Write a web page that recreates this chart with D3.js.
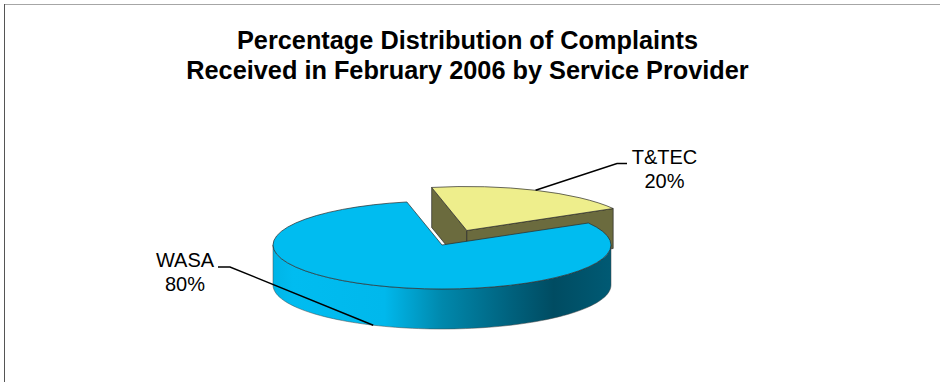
<!DOCTYPE html>
<html>
<head>
<meta charset="utf-8">
<script src="https://cdn.jsdelivr.net/npm/d3@7"></script>
<style>
html, body { margin: 0; padding: 0; background: #fff; }
svg { display: block; font-family: "Liberation Sans", Arial, sans-serif; }
</style>
</head>
<body>
<svg id="chart" width="940" height="382"></svg>
<script>
// Complaints by service provider
const titleLines = ["Percentage Distribution of Complaints", "Received in February 2006 by Service Provider"];
const providers = ["T&TEC", "WASA"];
const shares = [20, 80];
const topColors = ["#eeee8c", "#00bcf0"];
const exploded = [61, 0];

const svg = d3.select("#chart");

// Frame along the top and left of the chart area
svg.append("line").attr("x1", 4).attr("y1", 4.5).attr("x2", 940).attr("y2", 4.5).attr("stroke", "#a6a6a6");
svg.append("line").attr("x1", 4.5).attr("y1", 4).attr("x2", 4.5).attr("y2", 382).attr("stroke", "#555");

// Title
svg.append("g").selectAll("text").data(titleLines).join("text")
  .attr("x", 467.5).attr("y", (d, i) => 49 + i * 29.5)
  .attr("text-anchor", "middle")
  .attr("font-size", 25.3).attr("font-weight", "bold").attr("fill", "#000")
  .text(d => d);

// Tilted pie geometry
const cx = 442, cy = 245, rx = 169, ry = 44, depth = 40;
const turn = 60 * Math.PI / 180;
const pie = d3.pie().sort(null).startAngle(turn - 2 * Math.PI * shares[0] / 100).endAngle(turn + 2 * Math.PI * (1 - shares[0] / 100));
const slices = pie(shares).map((s, i) => {
  const mid = (s.startAngle + s.endAngle) / 2;
  return {
    ...s, i, mid,
    ox: cx + exploded[i] * Math.sin(mid),
    oy: cy - exploded[i] * (ry / rx) * Math.cos(mid)
  };
});
const px = (s, a) => s.ox + rx * Math.sin(a);
const py = (s, a) => s.oy - ry * Math.cos(a);
const arcTop = d3.arc().innerRadius(0).outerRadius(rx);

// Gradient across the front wall of the large slice
const defs = svg.append("defs");
const grad = defs.append("linearGradient").attr("id", "wall")
  .attr("gradientUnits", "userSpaceOnUse")
  .attr("x1", cx - rx).attr("x2", cx + rx).attr("y1", 0).attr("y2", 0);
[[0, "#00b4e6"], [0.06, "#00bcf0"], [0.33, "#00b8ec"], [0.5, "#0088ac"], [0.7, "#00627e"], [0.83, "#004c62"], [1, "#005a74"]]
  .forEach(([o, c]) => grad.append("stop").attr("offset", o).attr("stop-color", c));

const edge = { stroke: "#2a2a2a", "stroke-width": 0.7 };
const style = (sel, attrs) => { Object.entries(attrs).forEach(([k, v]) => sel.attr(k, v)); return sel; };
const line = d3.line();

// Cut faces of the pulled-out slice, then its top
const small = slices[0];
[small.startAngle, small.endAngle].forEach(a => {
  const pts = [[small.ox, small.oy], [px(small, a), py(small, a)], [px(small, a), py(small, a) + depth], [small.ox, small.oy + depth]];
  style(svg.append("path").attr("d", line(pts) + "Z").attr("fill", "#6b6b3e"), edge);
});
style(svg.append("path")
  .attr("transform", `translate(${small.ox},${small.oy}) scale(1,${ry / rx})`)
  .attr("d", arcTop(small))
  .attr("fill", topColors[0]), edge).style("vector-effect", "non-scaling-stroke");

// Front wall and top of the large slice
const large = slices[1];
const frontAngles = d3.range(90, 270.5, 2).map(d => d * Math.PI / 180);
const rim = frontAngles.map(a => [px(large, a), py(large, a)]);
const rimLow = frontAngles.slice().reverse().map(a => [px(large, a), py(large, a) + depth]);
style(svg.append("path").attr("d", line(rim.concat(rimLow)) + "Z").attr("fill", "url(#wall)"), { stroke: "#444", "stroke-width": 0.5 });
style(svg.append("path")
  .attr("transform", `translate(${large.ox},${large.oy}) scale(1,${ry / rx})`)
  .attr("d", arcTop(large))
  .attr("fill", topColors[1]), edge).style("vector-effect", "non-scaling-stroke");

// Leader lines run from each slice to its label
const smallAnchor = [px(small, small.mid), py(small, small.mid)];
const largeAnchor = [px(large, large.mid), py(large, large.mid) + depth];
const leaders = [
  [smallAnchor, [617, 163.5], [627, 163.5]],
  [[218, 267], [230, 267], largeAnchor]
];
svg.append("g").selectAll("path").data(leaders).join("path")
  .attr("d", d => line(d)).attr("fill", "none").attr("stroke", "#000").attr("stroke-width", 1.5);

// Labels
const labelAt = [[664.5, 164], [185, 267]];
slices.forEach((s, i) => {
  const t = svg.append("text").attr("text-anchor", "middle").attr("font-size", 20).attr("fill", "#000");
  t.append("tspan").attr("x", labelAt[i][0]).attr("y", labelAt[i][1]).text(providers[i]);
  t.append("tspan").attr("x", labelAt[i][0]).attr("y", labelAt[i][1] + 24).text(shares[i] + "%");
});
</script>
</body>
</html>
